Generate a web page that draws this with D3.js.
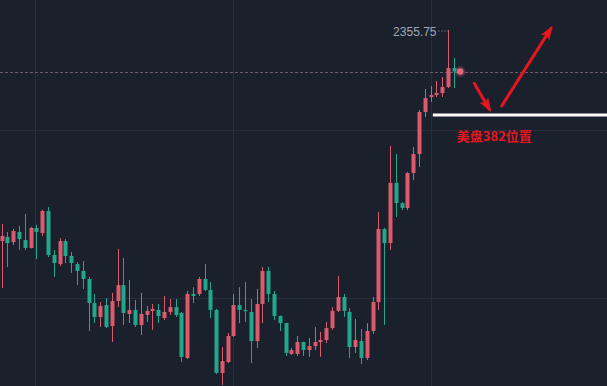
<!DOCTYPE html>
<html><head><meta charset="utf-8">
<script src="https://cdn.jsdelivr.net/npm/d3@7"></script>
<style>html,body{margin:0;padding:0;background:#1b202d;overflow:hidden}</style>
</head><body><div id="chart"></div>
<script>
// ---- data ----
const opens = [2343.39,2343.63,2343.33,2343.93,2343.45,2342.98,2344.17,2343.87,2345.18,2342.56,
2342.02,2343.39,2342.50,2342.02,2341.61,2341.13,2339.70,2338.87,2339.58,2338.33,
2339.82,2340.77,2339.05,2339.29,2338.39,2338.99,2339.23,2339.29,2338.81,2339.17,
2339.46,2339.11,2336.43,2340.24,2340.24,2341.13,2340.48,2339.29,2335.54,2336.19,
2337.74,2339.58,2339.29,2339.17,2337.44,2339.64,2341.61,2340.24,2338.93,2338.51,
2336.67,2336.67,2337.38,2336.90,2337.14,2337.38,2337.50,2338.21,2339.23,2340.06,
2339.17,2337.08,2337.44,2336.43,2338.04,2339.76,2344.11,2343.27,2346.85,2345.65,
2345.36,2347.44,2348.57,2351.07,2351.96,2352.08,2352.20,2352.56,2353.69];
const highs = [2344.40,2343.93,2344.11,2344.29,2345.00,2344.23,2344.35,2345.24,2345.42,2342.86,
2343.57,2343.51,2342.74,2342.14,2342.20,2341.25,2340.24,2339.76,2340.00,2340.30,
2342.92,2342.38,2341.07,2339.88,2340.30,2339.52,2339.64,2339.64,2340.12,2339.94,
2339.94,2339.17,2340.42,2340.65,2341.25,2342.02,2340.95,2339.35,2337.08,2337.92,
2340.24,2340.65,2340.95,2339.94,2340.54,2341.85,2341.85,2340.42,2338.95,2338.53,
2337.02,2337.74,2337.40,2337.62,2338.27,2337.98,2338.57,2339.46,2341.31,2340.24,
2339.40,2338.75,2338.15,2338.51,2340.06,2345.12,2344.17,2349.05,2348.57,2345.70,
2347.50,2348.99,2351.19,2352.44,2352.62,2352.92,2353.15,2355.95,2354.29];
const lows = [2340.60,2341.85,2343.15,2342.86,2342.86,2342.95,2342.32,2343.69,2342.44,2341.25,
2341.90,2342.08,2341.49,2340.77,2340.54,2338.04,2338.51,2338.27,2338.21,2337.38,
2339.46,2338.39,2338.51,2338.27,2337.80,2338.57,2338.10,2338.51,2338.69,2338.99,
2338.87,2336.19,2336.37,2339.70,2340.12,2340.42,2338.81,2335.48,2334.82,2336.13,
2337.68,2338.51,2338.57,2336.13,2337.02,2338.51,2339.76,2338.69,2338.04,2336.55,
2336.61,2336.55,2336.55,2336.49,2336.90,2336.49,2337.32,2338.10,2339.17,2338.87,
2336.43,2336.73,2336.07,2336.31,2337.86,2339.29,2338.39,2342.86,2344.82,2345.24,
2345.24,2347.02,2347.80,2350.77,2351.67,2351.96,2351.96,2352.50,2352.50];
const closes = [2343.69,2343.27,2343.99,2343.51,2342.98,2344.17,2343.93,2345.18,2342.56,2342.08,
2343.39,2342.50,2342.08,2341.61,2341.13,2339.70,2338.87,2339.52,2338.27,2339.82,
2340.77,2339.11,2339.29,2338.39,2339.05,2339.23,2339.35,2338.93,2339.17,2339.46,
2338.99,2336.49,2340.24,2340.12,2341.13,2340.48,2339.29,2335.54,2336.25,2337.74,
2339.58,2339.29,2339.23,2337.44,2339.64,2341.61,2340.24,2338.93,2338.51,2336.73,
2336.90,2337.38,2336.90,2337.14,2337.38,2337.50,2338.21,2339.23,2340.06,2339.23,
2337.08,2337.50,2336.43,2338.04,2339.76,2344.11,2343.27,2346.85,2345.65,2345.36,
2347.44,2348.57,2351.07,2351.90,2352.08,2352.20,2352.56,2353.69,2353.48];
const gridPrices = [2340, 2350];
const gridBars = [5.75, 39.9, 74.1];
const highLabel = "2355.75";
const levelPrice = 2350.89;            // white "382" level line
const levelStartBar = 74.4;
const levelLabel = "美盘382位置";
const arrowDown = [[81.55, 2352.78], [84.17, 2351.22]];
const arrowUp = [[86.28, 2351.43], [94.79, 2356.05]];

// ---- drawing ----
const W = 607, H = 386;
const UP = "#dc5a6c", DOWN = "#22a68c", ARROW = "#e8161f";
const svg = d3.select("#chart").append("svg").attr("width", W).attr("height", H)
  .style("display","block");
svg.append("rect").attr("width", W).attr("height", H).attr("fill", "#1b202d");

const n = opens.length;
const x = d3.scaleLinear().domain([0, n - 1]).range([1.7, 453.7]);
const y = d3.scaleLinear().domain([2340, 2350]).range([298, 130]);

// grid
svg.append("g").selectAll("line").data(gridPrices).join("line")
  .attr("x1", 0).attr("x2", W)
  .attr("y1", d => Math.round(y(d)) + 0.5).attr("y2", d => Math.round(y(d)) + 0.5)
  .attr("stroke", "#272e3c").attr("stroke-width", 1);
svg.append("g").selectAll("line").data(gridBars).join("line")
  .attr("y1", 0).attr("y2", H)
  .attr("x1", d => Math.round(x(d)) + 0.5).attr("x2", d => Math.round(x(d)) + 0.5)
  .attr("stroke", "#272e3c").attr("stroke-width", 1);

// last price dashed line
const last = closes[n - 1];
svg.append("line").attr("x1", 0).attr("x2", W)
  .attr("y1", Math.round(y(last)) + 0.5).attr("y2", Math.round(y(last)) + 0.5)
  .attr("stroke", "#6e5c68").attr("stroke-width", 1).attr("stroke-dasharray", "3,2");

// candles
const idx = d3.range(n);
const g = svg.append("g");
g.selectAll("line.w").data(idx).join("line").attr("class", "w")
  .attr("x1", i => Math.round(x(i)) + 0.5).attr("x2", i => Math.round(x(i)) + 0.5)
  .attr("y1", i => y(highs[i])).attr("y2", i => y(lows[i]))
  .attr("stroke", i => closes[i] >= opens[i] ? UP : DOWN).attr("stroke-width", 1);
g.selectAll("rect.b").data(idx).join("rect").attr("class", "b")
  .attr("x", i => Math.round(x(i)) - 1.5)
  .attr("width", 4)
  .attr("y", i => y(Math.max(opens[i], closes[i])))
  .attr("height", i => Math.max(1.2, Math.abs(y(opens[i]) - y(closes[i]))))
  .attr("fill", i => closes[i] >= opens[i] ? UP : DOWN);

// high label
const hiIdx = d3.maxIndex(highs);
const hx = Math.round(x(hiIdx)) + 0.5, hy = y(highs[hiIdx]);
svg.append("line").attr("x1", hx - 10).attr("x2", hx).attr("y1", hy + 1).attr("y2", hy + 1)
  .attr("stroke", "#8f95a1").attr("stroke-width", 1).attr("stroke-dasharray", "1,2");
svg.append("text").attr("x", hx - 12).attr("y", hy + 5.5)
  .attr("text-anchor", "end").attr("fill", "#a3a8b3")
  .attr("font-family", "Liberation Sans, Arial, sans-serif").attr("font-size", 12)
  .text(highLabel);

// last price dot with glow
const dotX = x(n - 1) + 6.5;
svg.append("circle").attr("cx", dotX).attr("cy", y(last)).attr("r", 5.5)
  .attr("fill", "#e0697a").attr("opacity", 0.22);
svg.append("circle").attr("cx", dotX).attr("cy", y(last)).attr("r", 3.3)
  .attr("fill", "#e0697a");

// white level line
svg.append("line").attr("x1", x(levelStartBar)).attr("x2", W)
  .attr("y1", y(levelPrice)).attr("y2", y(levelPrice))
  .attr("stroke", "#ffffff").attr("stroke-width", 3);
svg.append("text").attr("x", x(levelStartBar) + 24).attr("y", y(levelPrice) + 26)
  .attr("fill", ARROW).attr("font-weight", "bold").attr("font-size", 13)
  .attr("font-family", "Noto Sans CJK SC, sans-serif")
  .text(levelLabel);

// arrows
const defs = svg.append("defs");
defs.append("marker").attr("id", "ah").attr("viewBox", "0 0 14 10")
  .attr("refX", 11).attr("refY", 5).attr("markerWidth", 14).attr("markerHeight", 10)
  .attr("markerUnits", "userSpaceOnUse").attr("orient", "auto")
  .append("path").attr("d", "M0,0 L14,5 L0,10 L3,5 Z").attr("fill", ARROW);
[arrowDown, arrowUp].forEach(a => {
  svg.append("line")
    .attr("x1", x(a[0][0])).attr("y1", y(a[0][1]))
    .attr("x2", x(a[1][0])).attr("y2", y(a[1][1]))
    .attr("stroke", ARROW).attr("stroke-width", 3).attr("stroke-linecap", "round")
    .attr("marker-end", "url(#ah)");
});
</script></body></html>
